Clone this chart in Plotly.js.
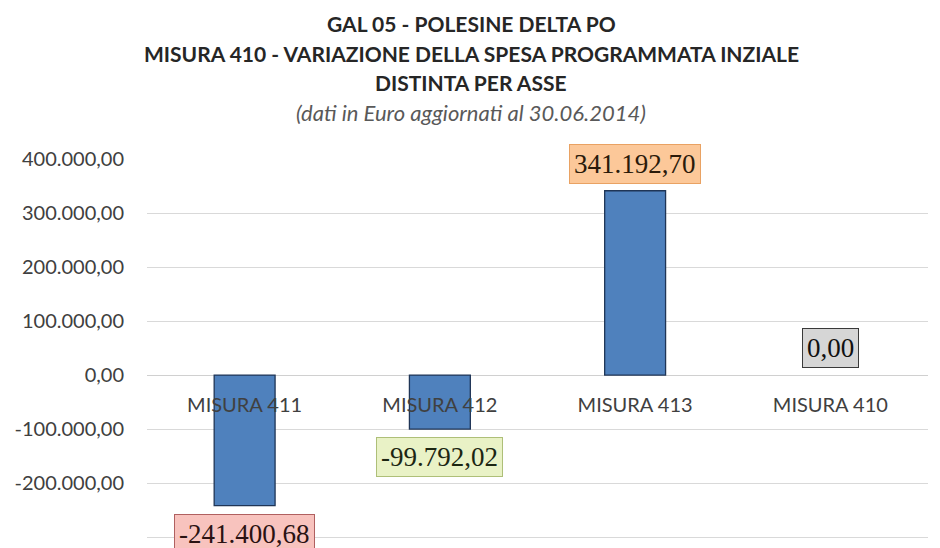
<!DOCTYPE html>
<html>
<head>
<meta charset="utf-8">
<script src="https://cdn.plot.ly/plotly-3.0.1.min.js"></script>
<style>html,body{margin:0;padding:0;background:#fff;}#chart{width:940px;height:548px;}</style>
</head>
<body>
<div id="chart"></div>
<script>
// ---- data ----
var categories = ["MISURA 411", "MISURA 412", "MISURA 413", "MISURA 410"];
var values = [-241400.68, -99792.02, 341192.70, 0.00];
var yTickValues = [-300000, -200000, -100000, 0, 100000, 200000, 300000, 400000];
var titleLines = ["GAL 05 - POLESINE DELTA PO", "MISURA 410 - VARIAZIONE DELLA SPESA PROGRAMMATA INZIALE", "DISTINTA PER ASSE"];
var subtitleText = "(dati in Euro aggiornati al 30.06.2014)";

// ---- styles ----
var labelFills = ["#f8c3be", "#e9f2c6", "#fcc899", "#d6d6d6"];
var labelBorders = ["#b06060", "#aebf78", "#e9a263", "#3a3a3a"];
var labelText = ["#2a1212", "#1c2612", "#2a1a0a", "#111111"];

function fmtIt(v) {
  var neg = v < 0;
  var s = Math.abs(v).toFixed(2);
  var parts = s.split(".");
  var ip = parts[0].replace(/\B(?=(\d{3})+(?!\d))/g, ".");
  return (neg ? "-" : "") + ip + "," + parts[1];
}

var W = 940, H = 548, L = 147, R = 12, T = 159;
var yMin = -320000, yMax = 400000;

var trace = {
  type: "bar",
  x: categories,
  y: values,
  marker: {
    color: "#4f81bd",
    line: { color: "#1f3556", width: values.map(function (v) { return v === 0 ? 0 : 1.3; }) }
  },
  hoverinfo: "skip"
};

var annotations = values.map(function (v, i) {
  var pos = v >= 0;
  return {
    x: categories[i], y: v, xref: "x", yref: "y",
    text: fmtIt(v), showarrow: false,
    yanchor: pos ? "bottom" : "top",
    yshift: pos ? 7 : -8,
    bgcolor: labelFills[i], bordercolor: labelBorders[i], borderwidth: 1, borderpad: 4,
    font: { family: "Liberation Serif, serif", size: 27, color: labelText[i] }
  };
});

// title lines positioned in container pixels
function paperX(px) { return (px - L) / (W - L - R); }
var titleY = [23, 53, 82];
titleLines.forEach(function (t, i) {
  annotations.push({
    xref: "paper", yref: "paper", x: paperX(471), y: 1, yshift: T - titleY[i],
    xanchor: "center", yanchor: "middle", showarrow: false,
    text: "<b>" + t + "</b>",
    font: { family: "Lato, sans-serif", size: 21, color: "#262626" }
  });
});
annotations.push({
  xref: "paper", yref: "paper", x: paperX(471), y: 1, yshift: T - 112,
  xanchor: "center", yanchor: "middle", showarrow: false,
  text: subtitleText,
  font: { family: "Lato, sans-serif", size: 22, color: "#595959", style: "italic" }
});

var layout = {
  width: W, height: H,
  margin: { l: L, r: R, t: T, b: 0 },
  paper_bgcolor: "#ffffff", plot_bgcolor: "#ffffff",
  showlegend: false,
  bargap: 0.688,
  xaxis: {
    type: "category",
    anchor: "free",
    position: (0 - yMin) / (yMax - yMin),
    showgrid: false, showline: false, zeroline: false,
    ticks: "", ticklabelstandoff: 16,
    tickfont: { family: "Lato, sans-serif", size: 20, color: "#404040" }
  },
  yaxis: {
    range: [yMin, yMax],
    tickvals: yTickValues,
    ticktext: yTickValues.map(fmtIt),
    showgrid: true, gridcolor: "#d9d9d9", gridwidth: 1,
    zeroline: true, zerolinecolor: "#d0d0d0", zerolinewidth: 1,
    showline: false, ticks: "", ticklabelstandoff: 22,
    tickfont: { family: "Lato, sans-serif", size: 20, color: "#404040" }
  },
  annotations: annotations
};

Plotly.newPlot("chart", [trace], layout, { displayModeBar: false, staticPlot: true });
</script>
</body>
</html>
